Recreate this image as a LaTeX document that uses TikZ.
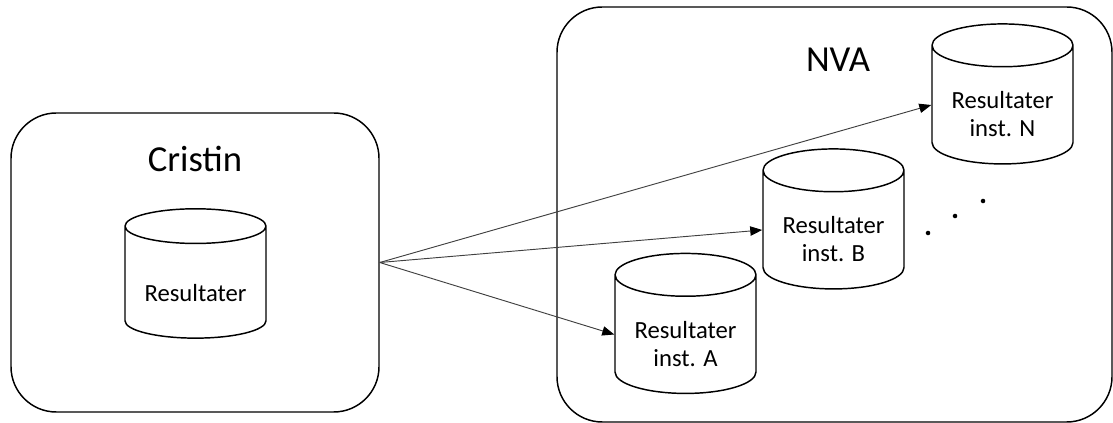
\documentclass[tikz,border=0pt]{standalone}
\usepackage{fontspec}
\setmainfont{Carlito}
\usepackage{xcolor}
\definecolor{lineDark}{HTML}{000000}
\definecolor{arrowGrey}{HTML}{404040}
\usepackage{tikz}
\usetikzlibrary{shapes,arrows.meta,positioning,calc,shapes.geometric}
\tikzset{%
  systemBox/.style={%
    rectangle,
    rounded corners=34pt,
    draw=lineDark,
    line width=1.1pt,
    inner sep=0pt
  },
  titleText/.style={%
    font=\fontsize{27.5}{33}\selectfont,
    inner sep=0pt
  },
  dbStore/.style={%
    cylinder,
    shape border rotate=90,
    draw=lineDark,
    line width=1.1pt,
    fill=white,
    aspect=0.42,
    minimum width=105.75pt,
    minimum height=105pt,
    inner sep=0pt,
    text height=48pt,
    align=center,
    font=\fontsize{18.5}{21}\selectfont
  },
  arrowLine/.style={%
    -{Triangle[length=9pt,width=7pt,color=black]},
    line width=0.7pt,
    color=arrowGrey
  }
}

\begin{document}
\begin{tikzpicture}[x=0.75pt,y=-0.75pt]
  \useasboundingbox (0,0) rectangle (1113,423);

  \node[systemBox, minimum width=276pt, minimum height=224.25pt] (cristin) at (195,262.5) {};
  \node[systemBox, minimum width=416.25pt, minimum height=311.25pt] (nva) at (834.5,214.5) {};
  \node[titleText] (cristinTitle) at ([yshift=-35pt]cristin.north) {Cristin};
  \node[titleText] (nvaTitle) at (838,60) {NVA};

  \node[dbStore, minimum height=97pt, aspect=0.34, text height=28pt] (resCristin) at (195.5,282.5) {Resultater};
  \node[dbStore] (resA) at (685.5,334.5) {Resultater\\inst. A};
  \node[dbStore] (resB) at (833.5,230) {Resultater\\inst. B};
  \node[dbStore] (resN) at (1002.5,105) {Resultater\\inst. N};

  % dots between B and N
  \foreach \px/\py in {928/233, 955/216, 983/201}
    \fill (\px,\py) circle (1.7pt);

  \draw[arrowLine] (cristin.east) -- (resN.west);
  \draw[arrowLine] (cristin.east) -- (resB.west);
  \draw[arrowLine] (cristin.east) -- (resA.west);
\end{tikzpicture}
\end{document}
